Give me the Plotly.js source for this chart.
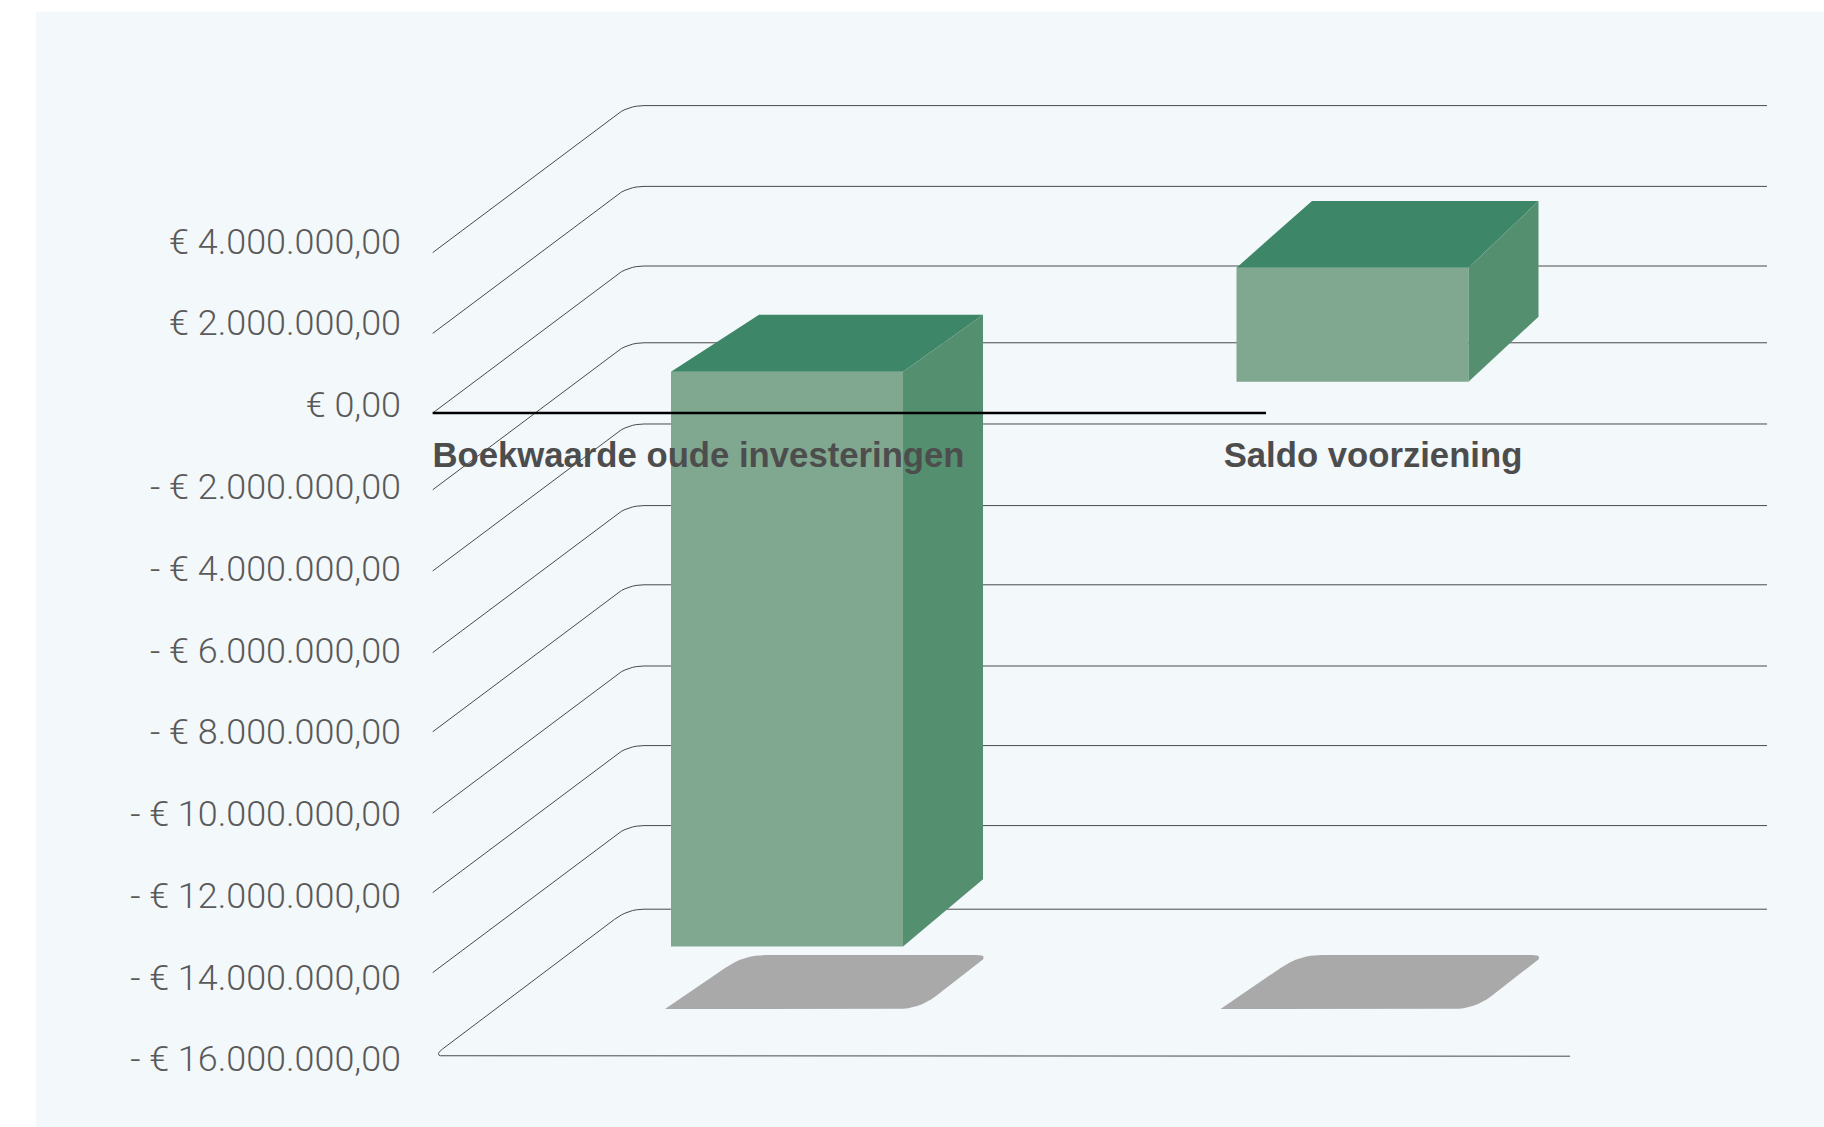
<!DOCTYPE html>
<html>
<head>
<meta charset="utf-8">
<title>Boekwaarde en voorziening</title>
<script src="https://cdn.plot.ly/plotly-3.0.1.min.js"></script>
<style>html,body{margin:0;padding:0;background:#fff}#chart{width:1824px;height:1127px}</style>
</head>
<body>
<div id="chart"></div>
<script>
// Chart values
const categories = ['Boekwaarde oude investeringen', 'Saldo voorziening'];
const barValues = [-14300000, 2835000];
const barBases = [1027000, 779000];
const tickValues = [4e6, 2e6, 0, -2e6, -4e6, -6e6, -8e6, -10e6, -12e6, -14e6, -16e6];
const tickLabels = ['€ 4.000.000,00', '€ 2.000.000,00', '€ 0,00', '- € 2.000.000,00', '- € 4.000.000,00',
  '- € 6.000.000,00', '- € 8.000.000,00', '- € 10.000.000,00', '- € 12.000.000,00', '- € 14.000.000,00', '- € 16.000.000,00'];
// Level of each wall line on the front plane
const wallLevels = [3.99e6, 1.98e6, 0, -1.91e6, -3.93e6, -5.96e6, -7.93e6, -9.95e6, -11.93e6, -13.92e6, -16e6];

// Page scale of the two main axes
const W = 1824, H = 1127;
const PANEL_LEFT = 36, PANEL_TOP = 11.5;
const X0_PX = 787, X_PX_PER_UNIT = 565.5;
const Y0_PX = 413, Y_PX_PER_EURO = 40.2e-6;
const LABEL_Y0_PX = 404.6, LABEL_PX_PER_EURO = 40.89e-6;
const BAR_WIDTH = 0.4103;

const ux = px => px / X_PX_PER_UNIT;          // horizontal pixels -> x units
const uy = px => px / Y_PX_PER_EURO;          // vertical pixels (up) -> euros
const xAtPx = px => (px - X0_PX) / X_PX_PER_UNIT;

// Oblique projection of the 3D look, in pixels, one entry per bar
const topLeftShift = [88, 75.5];
const backShift = [80, 70];
const topRise = [57, 66.7];
const bottomRise = [67.4, 65];

// Floor and wall of the box
const GRID_LEFT = xAtPx(432.7), GRID_BACK = xAtPx(628), GRID_RIGHT = xAtPx(1767);
const FLOOR_FRONT_LEFT = xAtPx(433), FLOOR_FRONT_RIGHT = xAtPx(1570);
const DEPTH = uy(147);
const AXIS_END = xAtPx(1266);

// Polyline with quadratic rounding at corners; cuts are pixel distances along each edge
function rounded(points, cuts) {
  const xs = [], ys = [];
  points.forEach((p, i) => {
    const c = cuts[i];
    if (!c) { xs.push(p[0]); ys.push(p[1]); return; }
    const prev = points[(i - 1 + points.length) % points.length];
    const next = points[(i + 1) % points.length];
    const along = (a, b, d) => {
      const dx = (b[0] - a[0]) * X_PX_PER_UNIT, dy = (b[1] - a[1]) * Y_PX_PER_EURO;
      const t = d / Math.hypot(dx, dy);
      return [a[0] + (b[0] - a[0]) * t, a[1] + (b[1] - a[1]) * t];
    };
    const s = along(p, prev, c[0]), e = along(p, next, c[1]);
    for (let k = 0; k <= 8; k++) {
      const t = k / 8, m = 1 - t;
      xs.push(m * m * s[0] + 2 * m * t * p[0] + t * t * e[0]);
      ys.push(m * m * s[1] + 2 * m * t * p[1] + t * t * e[1]);
    }
  });
  return { x: xs, y: ys };
}

const traces = [];
const gridLine = { color: '#4a4a4a', width: 1 };
const lineTrace = (path, line, yaxis) => ({
  type: 'scatter', mode: 'lines', x: path.x, y: path.y, line, yaxis,
  hoverinfo: 'skip', showlegend: false
});
const faceTrace = (path, color) => ({
  type: 'scatter', mode: 'lines', x: path.x, y: path.y, fill: 'toself', fillcolor: color,
  line: { width: 0, color }, yaxis: 'y2', hoverinfo: 'skip', showlegend: false
});

// Wall and floor lines, one per tick
wallLevels.forEach((v, i) => {
  const last = i === wallLevels.length - 1;
  const path = last
    ? rounded([[FLOOR_FRONT_RIGHT, v], [FLOOR_FRONT_LEFT, v], [GRID_BACK, v + DEPTH], [GRID_RIGHT, v + DEPTH]],
              [0, [12, 12], [17, 16], 0])
    : rounded([[GRID_LEFT, v], [GRID_BACK, v + DEPTH], [GRID_RIGHT, v + DEPTH]], [0, [17, 16], 0]);
  traces.push(lineTrace(path, gridLine, 'y'));
});

// Front faces of the bars
traces.push({
  type: 'bar', x: [0, 1], y: barValues, base: barBases, width: BAR_WIDTH,
  marker: { color: '#80a790', line: { width: 0 } }, yaxis: 'y2',
  hoverinfo: 'skip', showlegend: false
});

// Shadows on the floor and the top and right faces
barValues.forEach((value, i) => {
  const left = i - BAR_WIDTH / 2, right = i + BAR_WIDTH / 2;
  const base = barBases[i], end = base + value;
  const top = Math.max(base, end), bottom = Math.min(base, end);

  const tip = right + ux(backShift[i] + 6.5);
  const shadowTop = uy(Y0_PX - 955), shadowBottom = uy(Y0_PX - 1009);
  traces.push(faceTrace(rounded([
    [tip - ux(324.5), shadowBottom], [tip - ux(70.5), shadowBottom],
    [tip, shadowTop], [tip - ux(245.5), shadowTop]
  ], [0, [21, 21], [13, 13], [22, 22]]), '#a9a9a9'));

  traces.push(faceTrace({
    x: [left, right, right + ux(backShift[i]), left + ux(topLeftShift[i]), left],
    y: [top, top, top + uy(topRise[i]), top + uy(topRise[i]), top]
  }, '#3d8668'));
  traces.push(faceTrace({
    x: [right, right + ux(backShift[i]), right + ux(backShift[i]), right, right],
    y: [top, top + uy(topRise[i]), bottom + uy(bottomRise[i]), bottom, top]
  }, '#54906f'));
});

// Zero line in front of everything
traces.push(lineTrace({ x: [GRID_LEFT, AXIS_END], y: [0, 0] }, { color: '#000000', width: 2.5 }, 'y2'));

// Carries the axis that prints the euro labels
traces.push({
  type: 'scatter', mode: 'none', x: tickValues.map(() => 0), y: tickValues, yaxis: 'y3',
  hoverinfo: 'skip', showlegend: false
});

const yRange = [(Y0_PX - H) / (Y_PX_PER_EURO), (Y0_PX - PANEL_TOP) / Y_PX_PER_EURO];
const hiddenY = { range: yRange, visible: false, fixedrange: true, showgrid: false, zeroline: false };
const xLabelCentres = [xAtPx(698.5), xAtPx(1373)];

const layout = {
  width: W, height: H,
  margin: { l: 0, r: 0, t: 0, b: 0, pad: 0 },
  paper_bgcolor: '#ffffff',
  plot_bgcolor: '#f3f8fb',
  hovermode: false,
  showlegend: false,
  barmode: 'overlay',
  font: { family: '"Liberation Sans", Arial, sans-serif', color: '#555555' },
  xaxis: {
    domain: [PANEL_LEFT / W, 1],
    range: [xAtPx(PANEL_LEFT), xAtPx(W)],
    anchor: 'free', position: 1 - 431 / H,
    tickmode: 'array', tickvals: xLabelCentres, ticktext: categories,
    tickfont: { family: '"Liberation Sans", Arial, sans-serif', size: 34.7, color: '#4d4d4d', weight: 700 },
    ticks: '', showgrid: false, zeroline: false, showline: false, fixedrange: true, tickangle: 0
  },
  yaxis: Object.assign({ domain: [0, 1 - PANEL_TOP / H] }, hiddenY),
  yaxis2: Object.assign({ overlaying: 'y' }, hiddenY),
  yaxis3: {
    overlaying: 'y', anchor: 'free', position: 401 / W, side: 'left',
    range: [(LABEL_Y0_PX - H) / LABEL_PX_PER_EURO, (LABEL_Y0_PX - PANEL_TOP) / LABEL_PX_PER_EURO],
    tickmode: 'array', tickvals: tickValues, ticktext: tickLabels,
    tickfont: { family: 'Roboto, "Liberation Sans", sans-serif', size: 35.9, color: '#5a5a5a', weight: 300 },
    ticks: '', showgrid: false, zeroline: false, showline: false, fixedrange: true
  }
};

Plotly.newPlot('chart', traces, layout, { displayModeBar: false, staticPlot: true });
</script>
</body>
</html>
